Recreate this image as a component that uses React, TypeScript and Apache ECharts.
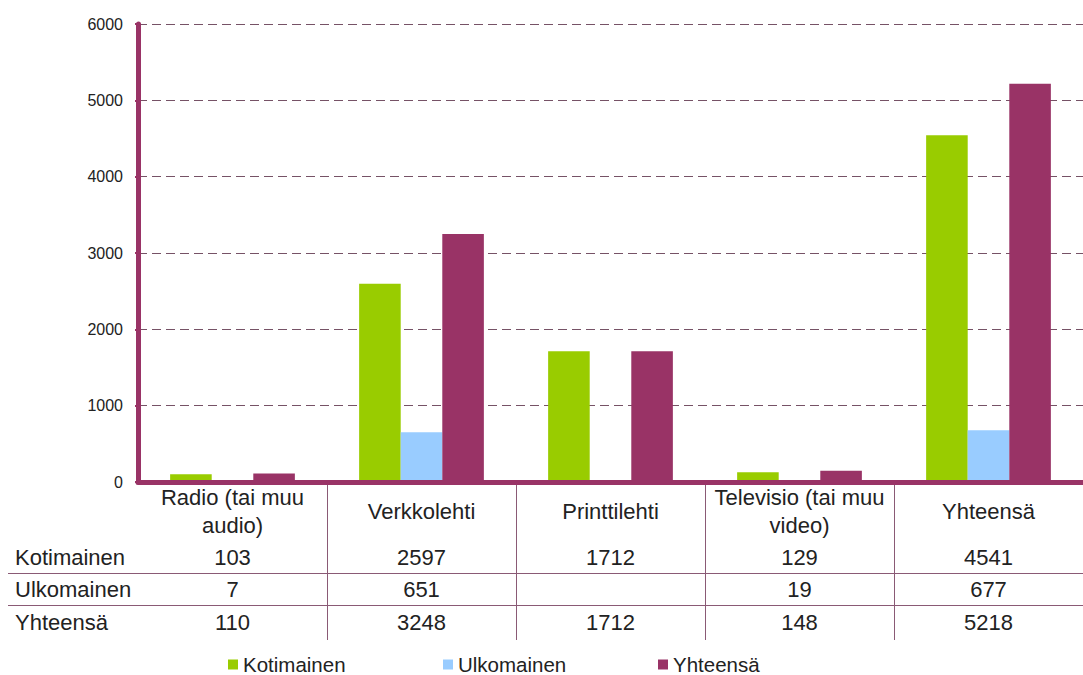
import React, { useEffect, useRef } from "react";
import * as echarts from "echarts";

const categories = [
  "Radio (tai muu\naudio)",
  "Verkkolehti",
  "Printtilehti",
  "Televisio (tai muu\nvideo)",
  "Yhteensä",
];
const seriesNames = ["Kotimainen", "Ulkomainen", "Yhteensä"];
const kotimainen = [103, 2597, 1712, 129, 4541];
const ulkomainen: (number | null)[] = [7, 651, null, 19, 677];
const yhteensa = [110, 3248, 1712, 148, 5218];
const colors = ["#99CC00", "#99CCFF", "#993366"];

const FONT = "'Liberation Sans', Arial, sans-serif";
const TEXT = "#222222";
const TABLE_LINE = "#8a5a75";

export default function App() {
  const ref = useRef<HTMLDivElement>(null);
  useEffect(() => {
    if (!ref.current) return;
    const chart = echarts.init(ref.current, null, { renderer: "svg" });
    const rows = [kotimainen, ulkomainen, yhteensa];
    const legendLefts = [223, 438, 653];
    chart.setOption({
      animation: false,
      backgroundColor: "#ffffff",
      textStyle: { fontFamily: FONT },
      grid: { left: 138, top: 24, width: 955, height: 458, containLabel: false },
      legend: seriesNames.map((n, i) => ({
        data: [n],
        left: legendLefts[i],
        top: 649,
        icon: "rect",
        itemWidth: 10,
        itemHeight: 10,
        itemGap: 0,
        padding: 5,
        textStyle: { fontSize: 20.5, color: TEXT, fontFamily: FONT, lineHeight: 20 },
        selectedMode: false,
      })),
      xAxis: {
        type: "category",
        data: categories,
        z: 5,
        axisLine: { show: true, lineStyle: { color: "#993366", width: 5 } },
        axisTick: { show: false },
        axisLabel: {
          interval: 0,
          fontSize: 22,
          lineHeight: 28,
          color: TEXT,
          fontFamily: FONT,
          verticalAlign: "middle",
          margin: 29,
        },
        splitLine: { show: false },
      },
      yAxis: {
        type: "value",
        min: 0,
        max: 6000,
        interval: 1000,
        axisLine: { show: true, lineStyle: { color: "#993366", width: 5 } },
        axisTick: { show: true, length: 3, lineStyle: { color: "#993366", width: 2 } },
        axisLabel: {
          fontSize: 16,
          color: TEXT,
          fontFamily: FONT,
          margin: 15,
          formatter: (v: number) => String(v),
        },
        splitLine: {
          show: true,
          lineStyle: { color: "#765266", width: 1, type: [9, 5] },
        },
      },
      series: seriesNames.map((n, i) => ({
        name: n,
        type: "bar",
        data: rows[i],
        barGap: "0%",
        barCategoryGap: "34%",
        itemStyle: { color: colors[i] },
      })),
    });

    const centers = categories.map((_, i) => chart.convertToPixel({ xAxisIndex: 0 }, i) as number);
    const step = centers[1] - centers[0];
    const graphics: any[] = [];
    const rowY = [557, 589, 622];
    seriesNames.forEach((n, r) => {
      graphics.push({
        type: "text",
        style: { text: n, x: 15, y: rowY[r], fill: TEXT, fontSize: 22, fontFamily: FONT, align: "left", verticalAlign: "middle" },
      });
      rows[r].forEach((v, c) => {
        if (v === null || v === undefined) return;
        graphics.push({
          type: "text",
          style: { text: String(v), x: centers[c], y: rowY[r], fill: TEXT, fontSize: 22, fontFamily: FONT, align: "center", verticalAlign: "middle" },
        });
      });
    });
    [573, 605].forEach((y) => {
      graphics.push({ type: "line", shape: { x1: 8, y1: y + 0.5, x2: 1083, y2: y + 0.5 }, style: { stroke: TABLE_LINE, lineWidth: 1 } });
    });
    for (let c = 0; c < centers.length - 1; c++) {
      const x = Math.round(centers[c] + step / 2) + 0.5;
      graphics.push({ type: "line", shape: { x1: x, y1: 485, x2: x, y2: 640 }, style: { stroke: TABLE_LINE, lineWidth: 1 } });
    }
    chart.setOption({ graphic: graphics });

    return () => chart.dispose();
  }, []);
  return (
    <div
      ref={ref}
      style={{ position: "fixed", left: 0, top: 0, width: 1083, height: 675, overflow: "hidden", background: "#fff" }}
    />
  );
}
